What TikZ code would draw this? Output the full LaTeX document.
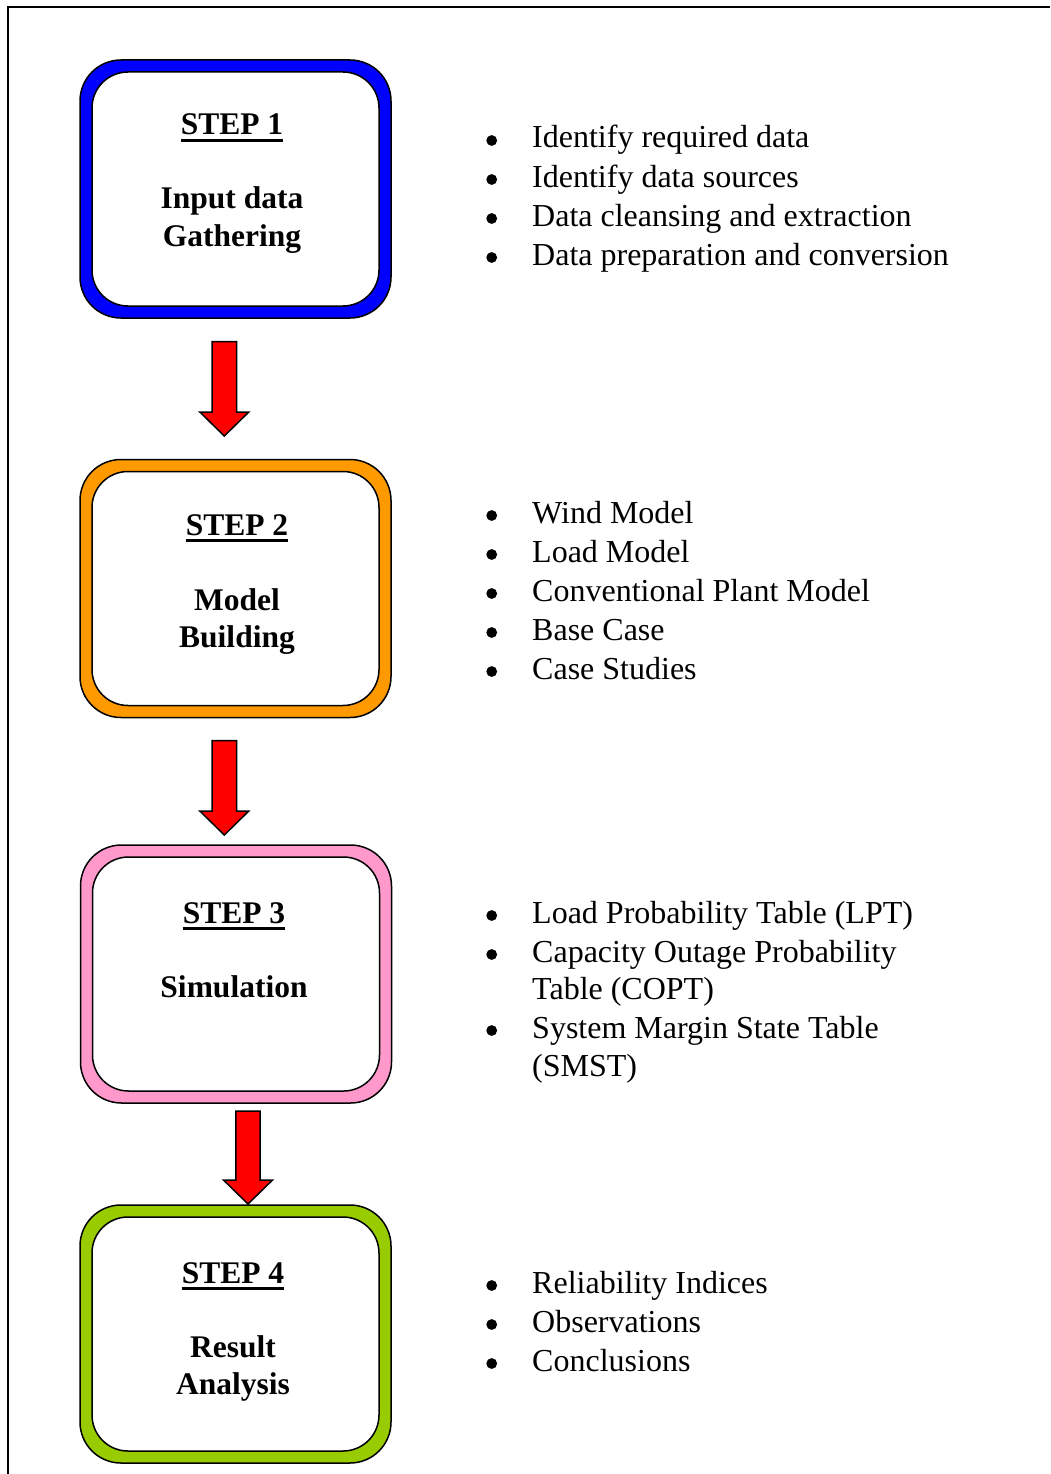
\documentclass[tikz,border=0pt]{standalone}
\usepackage{fontspec}
\setmainfont{Liberation Serif}
\usetikzlibrary{calc}
\definecolor{sblue}{RGB}{0,0,255}
\definecolor{sorange}{RGB}{255,153,0}
\definecolor{spink}{RGB}{255,153,204}
\definecolor{sgreen}{RGB}{153,204,0}
\newcommand{\stepul}[1]{\setbox0\hbox{#1}\rlap{\rule[-7pt]{\wd0}{3pt}}\box0}
\newcommand{\blockarrow}[2]{%
  \path let \p1=(#1), \p2=(#2) in [arrowfill]
  (\x1-12.2pt,\y1) -- (\x1+12.2pt,\y1) -- (\x1+12.2pt,\y2+24pt) -- (\x1+24.5pt,\y2+24pt)
  -- (\x2,\y2) -- (\x1-24.5pt,\y2+24pt) -- (\x1-12.2pt,\y2+24pt) -- cycle;}
\tikzset{
  outerbox/.style={draw=black, line width=1.5pt, rounded corners=41pt,
    minimum width=311pt, minimum height=258pt, inner sep=0pt},
  innerbox/.style={draw=black, fill=white, line width=1.5pt, rounded corners=36pt,
    minimum width=287pt, minimum height=234pt, inner sep=0pt},
  boxtxt/.style={anchor=base, inner sep=0pt, font=\fontsize{31.5}{38}\selectfont\bfseries},
  item/.style={anchor=base west, inner sep=0pt, font=\fontsize{32}{39}\selectfont},
  arrowfill/.style={fill=red, draw=black, line width=1.5pt, line join=miter},
  frame/.style={draw=black, line width=2pt},
  bulletdot/.style={fill=black}
}
\begin{document}
\begin{tikzpicture}[x=1pt,y=-1pt]
\useasboundingbox (0,0) rectangle (1050,1474);
% page frame
\coordinate (fbl) at (8,1474);
\coordinate (ftl) at (8,7);
\coordinate (ftr) at (1050,7);
\draw[frame] (fbl) -- (ftl) -- (ftr);

% boxes
\node[outerbox, fill=sblue]   (box1) at (235.5,189) {};
\node[innerbox]               (in1)  at (box1.center) {};
\node[outerbox, fill=sorange] (box2) at (235.5,588.5) {};
\node[innerbox]               (in2)  at (box2.center) {};
\node[outerbox, fill=spink]   (box3) at (236,974) {};
\node[innerbox]               (in3)  at (box3.center) {};
\node[outerbox, fill=sgreen]  (box4) at (235.5,1334) {};
\node[innerbox]               (in4)  at (box4.center) {};

% box texts
\node[boxtxt] (s1)  at (232,135) {\stepul{STEP 1}};
\node[boxtxt] (t1a) at (232,208) {Input data};
\node[boxtxt] (t1b) at (232,246) {Gathering};

\node[boxtxt] (s2)  at (237,535) {\stepul{STEP 2}};
\node[boxtxt] (t2a) at (237,610) {Model};
\node[boxtxt] (t2b) at (237,647) {Building};

\node[boxtxt] (s3)  at (234,923) {\stepul{STEP 3}};
\node[boxtxt] (t3a) at (234,997) {Simulation};

\node[boxtxt] (s4)  at (233,1283) {\stepul{STEP 4}};
\node[boxtxt] (t4a) at (233,1357) {Result};
\node[boxtxt] (t4b) at (233,1394) {Analysis};

% arrows
\coordinate (a1s) at (224.3,341.5);
\coordinate (a1e) at (224.3,436);
\coordinate (a2s) at (224.3,740.5);
\coordinate (a2e) at (224.3,835);
\coordinate (a3s) at (248,1111);
\coordinate (a3e) at (248,1204);
\blockarrow{a1s}{a1e}
\blockarrow{a2s}{a2e}
\blockarrow{a3s}{a3e}

% bullet lists
\node[item] (l1a) at (532,148) {Identify required data};
\node[item] (l1b) at (532,187) {Identify data sources};
\node[item] (l1c) at (532,226) {Data cleansing and extraction};
\node[item] (l1d) at (532,265) {Data preparation and conversion};

\node[item] (l2a) at (532,523) {Wind Model};
\node[item] (l2b) at (532,562) {Load Model};
\node[item] (l2c) at (532,601) {Conventional Plant Model};
\node[item] (l2d) at (532,640) {Base Case};
\node[item] (l2e) at (532,679) {Case Studies};

\node[item] (l3a) at (532,923) {Load Probability Table (LPT)};
\node[item] (l3b) at (532,962) {Capacity Outage Probability};
\node[item] (l3c) at (532,999) {Table (COPT)};
\node[item] (l3d) at (532,1038) {System Margin State Table};
\node[item] (l3e) at (532,1076) {(SMST)};

\node[item] (l4a) at (532,1293) {Reliability Indices};
\node[item] (l4b) at (532,1332) {Observations};
\node[item] (l4c) at (532,1371) {Conclusions};

% bullets
\foreach \n in {l1a,l1b,l1c,l1d,l2a,l2b,l2c,l2d,l2e,l3a,l3b,l3d,l4a,l4b,l4c}
  \fill[bulletdot] (\n.base west) ++(-40.3,-7.5) circle[radius=5.4];
\end{tikzpicture}
\end{document}
